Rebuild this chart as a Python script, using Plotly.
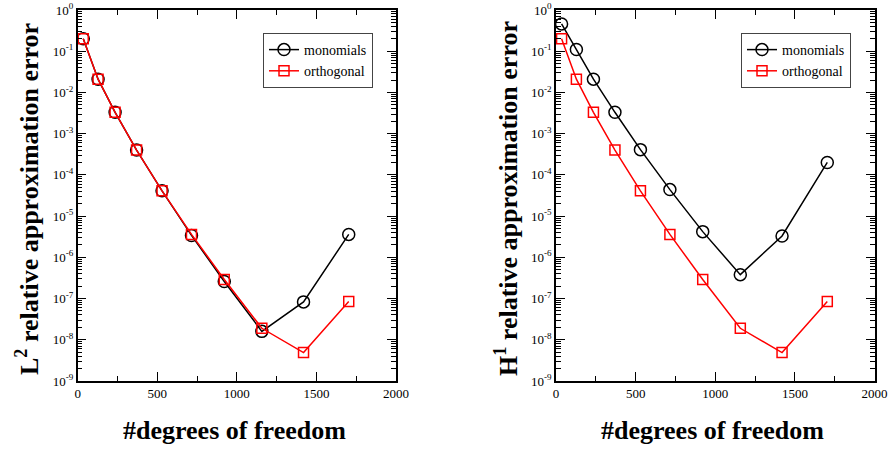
import plotly.graph_objects as go

dofs = [35, 128, 235, 370, 530, 715, 921, 1157, 1419, 1703]
l2_monomials = [0.2, 0.021, 0.0033, 4.0e-4, 4.1e-5, 3.4e-6, 2.6e-7, 1.6e-8, 8.3e-8, 3.6e-6]
l2_orthogonal = [0.2, 0.021, 0.0033, 4.0e-4, 4.1e-5, 3.6e-6, 2.9e-7, 1.9e-8, 4.9e-9, 8.5e-8]
h1_monomials = [0.46, 0.11, 0.021, 0.0033, 4.1e-4, 4.4e-5, 4.2e-6, 3.8e-7, 3.3e-6, 2.0e-4]
h1_orthogonal = [0.2, 0.021, 0.0033, 4.0e-4, 4.1e-5, 3.6e-6, 2.9e-7, 1.9e-8, 4.9e-9, 8.5e-8]

x_ticks = [0, 500, 1000, 1500, 2000]
y_exps = list(range(-9, 1))
y_tickvals = [10.0 ** e for e in y_exps]
y_ticktext = ["10<sup>%d</sup>" % e for e in y_exps]
y_minor = [k * 10.0 ** e for e in range(-9, 0) for k in range(2, 10)]

FONT = "Liberation Serif, Times New Roman, serif"

fig = go.Figure()

def add_pair(mono, ortho, xa, ya, legend):
    fig.add_trace(go.Scatter(
        x=dofs, y=mono, mode="lines+markers", name="monomials",
        line=dict(color="black", width=1.5),
        marker=dict(symbol="circle-open", size=12, color="black", line=dict(width=1.5)),
        xaxis=xa, yaxis=ya, legend=legend))
    fig.add_trace(go.Scatter(
        x=dofs, y=ortho, mode="lines+markers", name="orthogonal",
        line=dict(color="red", width=1.5),
        marker=dict(symbol="square-open", size=10, color="red", line=dict(width=1.5)),
        xaxis=xa, yaxis=ya, legend=legend))

add_pair(l2_monomials, l2_orthogonal, "x", "y", "legend")
add_pair(h1_monomials, h1_orthogonal, "x2", "y2", "legend2")

W, H = 891, 450
ytop, ybot = 10, 381
ydom = [1 - ybot / H, 1 - ytop / H]

def xaxis(dom, anchor):
    return dict(domain=dom, anchor=anchor, range=[0, 2000], tickvals=x_ticks,
                ticks="inside", ticklen=9, tickwidth=1.2, tickcolor="black",
                showline=True, linecolor="black", linewidth=1.5, mirror="ticks",
                showgrid=False, zeroline=False, automargin=False,
                minor=dict(tickvals=[250, 750, 1250, 1750], ticks="inside", ticklen=5,
                           tickwidth=1.2, tickcolor="black", showgrid=False),
                tickfont=dict(family=FONT, size=13, color="black"))

def yaxis(anchor):
    return dict(domain=ydom, anchor=anchor, type="log", range=[-9, 0],
                tickvals=y_tickvals, ticktext=y_ticktext,
                ticks="inside", ticklen=9, tickwidth=1.2, tickcolor="black",
                showline=True, linecolor="black", linewidth=1.5, mirror="ticks",
                showgrid=False, zeroline=False, automargin=False,
                minor=dict(tickvals=y_minor, ticks="inside", ticklen=5,
                           tickwidth=1, tickcolor="black", showgrid=False),
                tickfont=dict(family=FONT, size=13, color="black"))

x1dom = [77.7 / W, 396 / W]
x2dom = [556 / W, 874.6 / W]

legend_style = dict(bgcolor="white", bordercolor="#444", borderwidth=1,
                    font=dict(family=FONT, size=14, color="black"),
                    xanchor="left", yanchor="top", tracegroupgap=0,
                    itemwidth=30)

TITLE_SIZE = 26

def title(text, x, y, angle=0):
    return dict(text=text, x=x / W, y=1 - y / H, xref="paper", yref="paper",
                xanchor="center", yanchor="middle", textangle=angle, showarrow=False,
                font=dict(family=FONT, size=TITLE_SIZE, color="black"))

fig.update_layout(
    width=W, height=H, margin=dict(l=0, r=0, t=0, b=0, autoexpand=False),
    font=dict(family=FONT),
    paper_bgcolor="white", plot_bgcolor="white",
    xaxis=xaxis(x1dom, "y"), yaxis=yaxis("x"),
    xaxis2=xaxis(x2dom, "y2"), yaxis2=yaxis("x2"),
    legend=dict(x=263 / W, y=1 - 33 / H, **legend_style),
    legend2=dict(x=741 / W, y=1 - 33 / H, **legend_style),
    annotations=[
        title("<b>L<sup>2</sup> relative approximation error</b>", 27, 199, -90),
        title("<b>H<sup>1</sup> relative approximation error</b>", 506, 199, -90),
        title("<b>#degrees of freedom</b>", 234, 430),
        title("<b>#degrees of freedom</b>", 712, 430),
    ],
)

fig.write_html("out.html", config={"displayModeBar": False},
               post_script="document.body.style.margin='0';")
